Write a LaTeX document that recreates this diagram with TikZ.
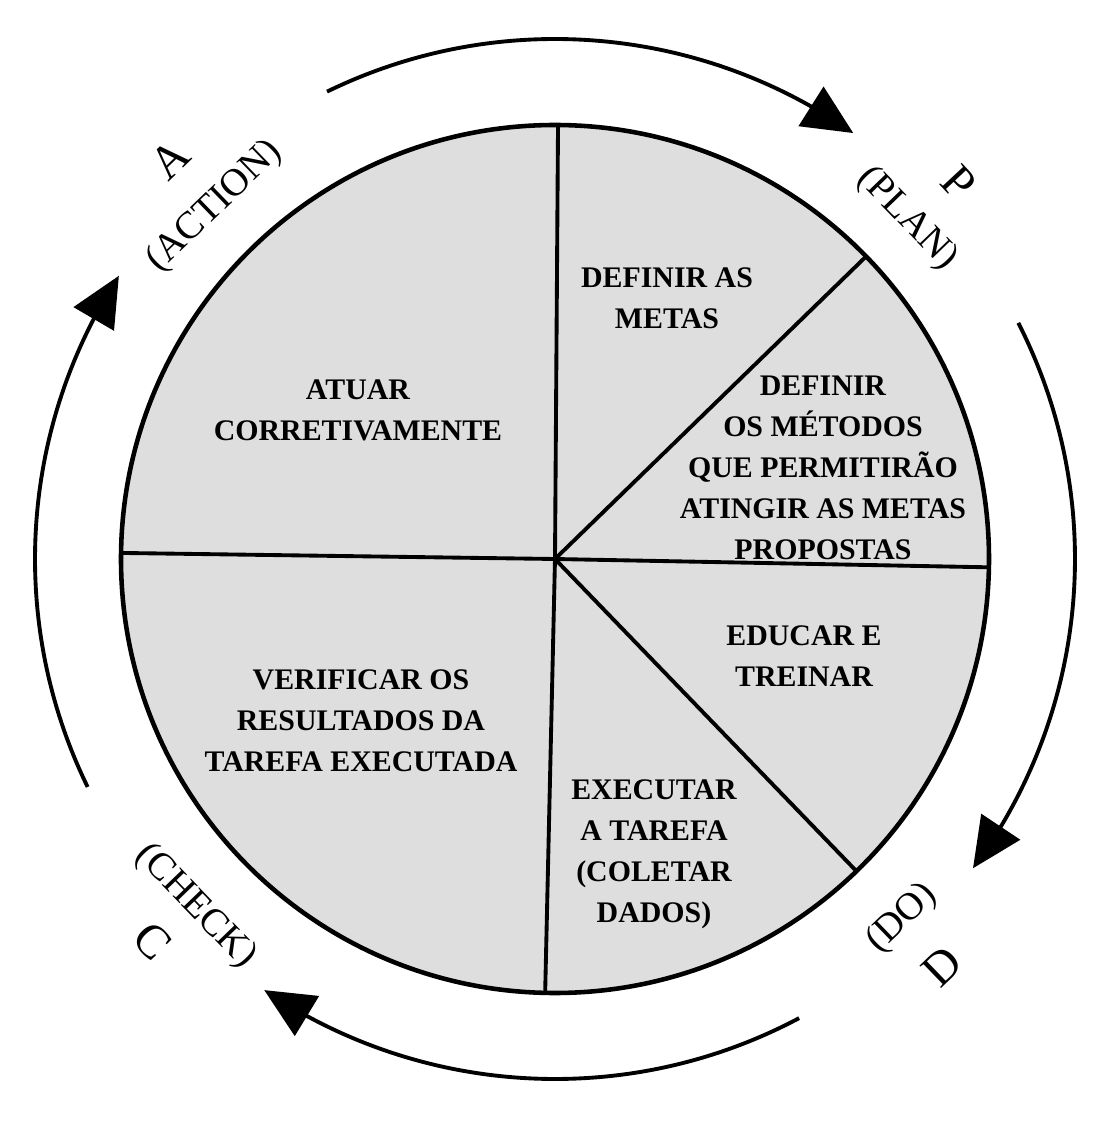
\documentclass[tikz,border=0pt]{standalone}
\usepackage{fontspec}
\setmainfont{Liberation Serif}
\usepackage{tikz}
\usetikzlibrary{arrows.meta,bending}

\newcommand\sectorfont{\bfseries\fontsize{8.5}{11.7}\selectfont}
\newcommand\phasefont{\fontsize{11}{13}\selectfont}
\newcommand\letterfont{\fontsize{13.5}{15}\selectfont}

\begin{document}
\begin{tikzpicture}[>={Triangle[length=5mm,width=4.6mm]},
  sector/.style={align=center,font=\sectorfont,inner sep=1pt},
  phase/.style={font=\phasefont,inner sep=1pt},
  letter/.style={font=\letterfont,inner sep=1pt},
  divider/.style={line width=1.1pt},
  cyc/.style={->,line width=1.1pt}]
\useasboundingbox (0,0) rectangle (11.16,11.39);
\fill[white] (0,0) rectangle (11.16,11.39);
\coordinate (o) at (5.55,5.80);
\begin{scope}[shift={(o)}]
% disc and its six sectors
\fill[black!13] (0,0) circle (4.34);
\foreach \ang in {89.6,44.2,-1.1,-46,-91.3,179.2}
  \draw[divider] (0,0) -- (\ang:4.34);
\draw[line width=1.3pt] (0,0) circle (4.34);
% texts in the sectors
\node[sector] (atuar) at (-1.97,1.49) {ATUAR\\CORRETIVAMENTE};
\node[sector] (metas) at (1.12,2.61) {DEFINIR AS\\METAS};
\node[sector] (metodos) at (2.68,0.91) {DEFINIR\\OS MÉTODOS\\QUE PERMITIRÃO\\ATINGIR AS METAS\\PROPOSTAS};
\node[sector] (educar) at (2.49,-0.97) {EDUCAR E\\TREINAR};
\node[sector] (verificar) at (-1.94,-1.62) {VERIFICAR OS\\RESULTADOS DA\\TAREFA EXECUTADA};
\node[sector] (executar) at (0.99,-2.95) {EXECUTAR\\A TAREFA\\(COLETAR\\DADOS)};
% the four phases round the disc
\node[letter,rotate=44] (a) at (134:5.55) {A};
\node[phase,rotate=44] (action) at (134:4.9) {(ACTION)};
\node[letter,rotate=-47] (p) at (43:5.52) {P};
\node[phase,rotate=-46] (plan) at (44:4.9) {(PLAN)};
\node[letter,rotate=44] (d) at (-46.5:5.62) {D};
\node[phase,rotate=44] (do) at (-46:5.0) {(DO)};
\node[letter,rotate=-46] (c) at (-136.5:5.55) {C};
\node[phase,rotate=-46] (check) at (-136:5.0) {(CHECK)};
% cycle arrows
\draw[cyc] (116:5.2) arc[start angle=116,end angle=55,radius=5.2];
\draw[cyc] (27:5.2) arc[start angle=27,end angle=-36.5,radius=5.2];
\draw[cyc] (-62:5.2) arc[start angle=-62,end angle=-124,radius=5.2];
\draw[cyc] (206:5.2) arc[start angle=206,end angle=147,radius=5.2];
\end{scope}
\end{tikzpicture}
\end{document}
